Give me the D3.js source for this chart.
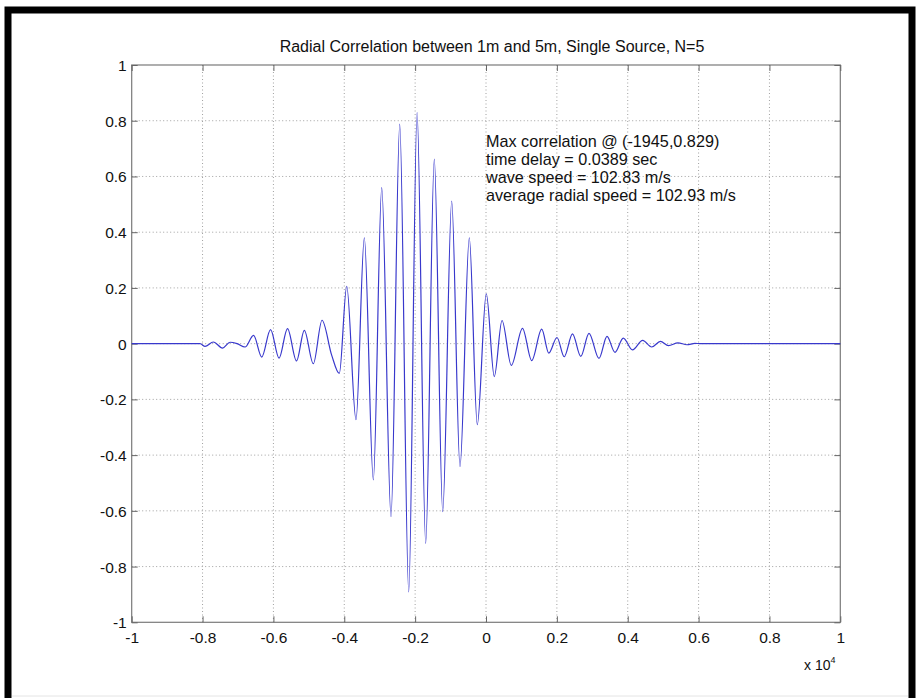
<!DOCTYPE html>
<html><head><meta charset="utf-8">
<script src="https://cdn.jsdelivr.net/npm/d3@7"></script>
<style>body{margin:0;background:#fff}svg{display:block}text{font-family:"Liberation Sans",Arial,sans-serif;fill:#111}</style>
</head><body>
<script>
// Extrema of the correlation curve (lag, correlation)
const lags = [-10000,-8300,-8071,-7930,-7696,-7436,-7224,-7027,-6801,-6561,-6330,-6081,-5842,-5602,-5348,-5128,-4874,-4628,-4354,-4140,-3931,-3669,-3434,-3180,-2943,-2681,-2435,-2181,-1945,-1702,-1459,-1222,-968,-734,-471,-246,8,234,452,714,1030,1290,1572,1772,2004,2207,2441,2675,2907,3189,3415,3640,3875,4134,4422,4676,4922,5150,5418,5672,5898,6039,6400,10000];
const corr = [0,0,0,-0.010,0.006,-0.016,0.005,0.000,-0.012,0.030,-0.048,0.050,-0.052,0.054,-0.062,0.048,-0.072,0.084,-0.042,-0.107,0.206,-0.273,0.380,-0.489,0.560,-0.621,0.788,-0.891,0.829,-0.717,0.662,-0.603,0.512,-0.441,0.380,-0.291,0.179,-0.118,0.083,-0.078,0.055,-0.061,0.052,-0.034,0.022,-0.047,0.035,-0.046,0.037,-0.053,0.026,-0.031,0.020,-0.022,0.012,-0.012,0.008,-0.007,0.003,-0.004,0.001,0,0,0];
const xTicks = [-10000,-8000,-6000,-4000,-2000,0,2000,4000,6000,8000,10000];
const xTickLabels = ["-1","-0.8","-0.6","-0.4","-0.2","0","0.2","0.4","0.6","0.8","1"];
const yTicks = [-1,-0.8,-0.6,-0.4,-0.2,0,0.2,0.4,0.6,0.8,1];
const yTickLabels = ["-1","-0.8","-0.6","-0.4","-0.2","0","0.2","0.4","0.6","0.8","1"];
const title = "Radial Correlation between 1m and 5m, Single Source, N=5";
const notes = ["Max correlation @ (-1945,0.829)","time delay = 0.0389 sec","wave speed = 102.83 m/s","average radial speed = 102.93 m/s"];

const W = 919, H = 698;
const L = 131.7, R = 840.3, T = 65, B = 622.3;
const svg = d3.select("body").append("svg").attr("width", W).attr("height", H);
svg.append("rect").attr("width", W).attr("height", H).attr("fill", "#fff");

// outer black frame
svg.append("path").attr("d", `M8,698 L8,10 L912,10 L912,698`).attr("fill","none").attr("stroke","#000").attr("stroke-width",7);
svg.append("line").attr("x1",12).attr("x2",908).attr("y1",696).attr("y2",696).attr("stroke","#e4e4e4").attr("stroke-width",1);

const x = d3.scaleLinear().domain([-10000,10000]).range([L,R]);
const y = d3.scaleLinear().domain([-1,1]).range([B,T]);

// grid
const g = svg.append("g");
g.selectAll(".gx").data(xTicks.slice(1,-1)).join("line")
  .attr("x1",d=>x(d)).attr("x2",d=>x(d)).attr("y1",T).attr("y2",B)
  .attr("stroke","#a0a0a0").attr("stroke-width",1).attr("stroke-dasharray","1,2.5");
g.selectAll(".gy").data(yTicks.slice(1,-1)).join("line")
  .attr("x1",L).attr("x2",R).attr("y1",d=>y(d)).attr("y2",d=>y(d))
  .attr("stroke","#a0a0a0").attr("stroke-width",1).attr("stroke-dasharray","1,2.5");

// box
svg.append("rect").attr("x",L).attr("y",T).attr("width",R-L).attr("height",B-T)
  .attr("fill","none").attr("stroke","#7a7a7a").attr("stroke-width",1.2);

// axes with inner ticks
const fmtX = (d)=>xTickLabels[xTicks.indexOf(d)];
const fmtY = (d)=>yTickLabels[yTicks.indexOf(d)];
const axB = svg.append("g").attr("transform",`translate(0,${B})`)
  .call(d3.axisBottom(x).tickValues(xTicks).tickFormat(fmtX).tickSizeInner(-6).tickSizeOuter(0).tickPadding(10));
const axT = svg.append("g").attr("transform",`translate(0,${T})`)
  .call(d3.axisTop(x).tickValues(xTicks).tickFormat("").tickSizeInner(-6).tickSizeOuter(0));
const axL = svg.append("g").attr("transform",`translate(${L},0)`)
  .call(d3.axisLeft(y).tickValues(yTicks).tickFormat(fmtY).tickSizeInner(-6).tickSizeOuter(0).tickPadding(5));
const axR = svg.append("g").attr("transform",`translate(${R},0)`)
  .call(d3.axisRight(y).tickValues(yTicks).tickFormat("").tickSizeInner(-6).tickSizeOuter(0));
[axB,axT,axL,axR].forEach(a=>{
  a.select(".domain").remove();
  a.selectAll(".tick line").attr("stroke","#666");
  a.selectAll(".tick text").attr("font-size",15.5).attr("font-family","Liberation Sans, Arial, sans-serif").attr("fill","#111");
});
axL.selectAll(".tick text").attr("dy","0.35em");

// curve
const pts = lags.map((l,i)=>[l,corr[i]]);
svg.append("path").datum(pts)
  .attr("d", d3.line().x(d=>x(d[0])).y(d=>y(d[1])).curve(d3.curveMonotoneX))
  .attr("fill","none").attr("stroke","#3838cc").attr("stroke-width",1.2);

// title
svg.append("text").attr("x",492).attr("y",52).attr("text-anchor","middle").attr("font-size",16).text(title);

// annotation
notes.forEach((t,i)=>{
  svg.append("text").attr("x",486).attr("y",146.5+i*18.3).attr("font-size",16.2).attr("fill","#000").text(t);
});

// exponent label
const ex = svg.append("text").attr("x",804).attr("y",670).attr("font-size",14);
ex.append("tspan").text("x 10");
ex.append("tspan").attr("font-size",9).attr("dy",-7).text("4");
</script>
</body></html>
